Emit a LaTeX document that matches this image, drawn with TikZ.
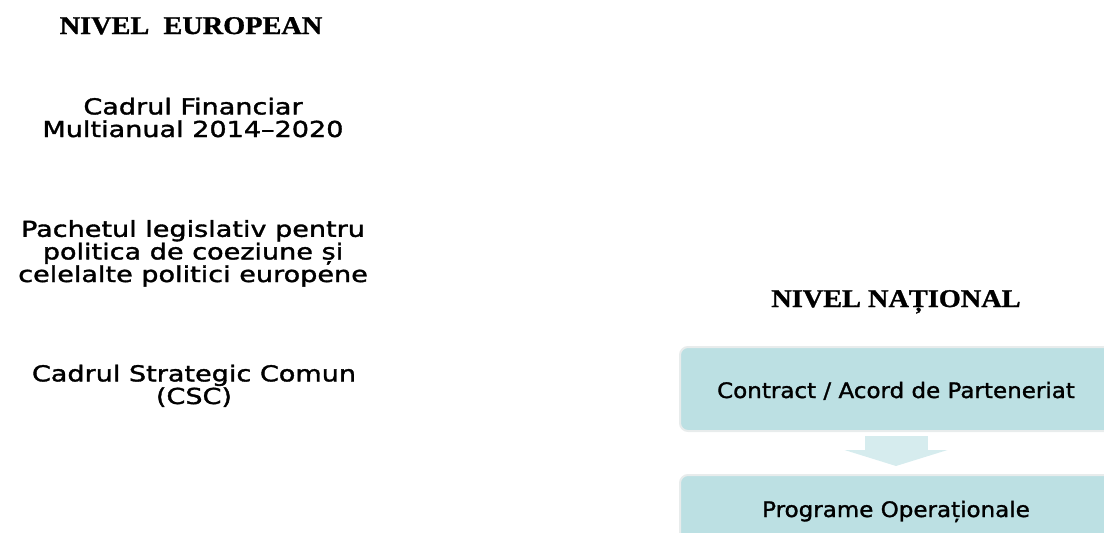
\documentclass[tikz,border=0pt]{standalone}
\usepackage{fontspec}
\usetikzlibrary{arrows.meta}
\newfontfamily\lsans[FakeStretch=1.23,FakeBold=1.6]{DejaVu Sans}
\newfontfamily\bsans[FakeStretch=1.08,FakeBold=1.4]{DejaVu Sans}
\newfontfamily\hserif[FakeStretch=1.11,FakeBold=1.2]{Liberation Serif}
\definecolor{boxfill}{RGB}{188,224,227}
\definecolor{arrowfill}{RGB}{214,236,238}
\definecolor{boxline}{RGB}{232,236,236}
\tikzset{
  heading/.style={inner sep=0pt, anchor=base, font=\hserif\bfseries\fontsize{25.5}{27}\selectfont},
  eutext/.style={inner sep=0pt, anchor=base, align=center, font=\lsans\fontsize{22}{22.6}\selectfont},
  natbox/.style={rounded corners=8pt, fill=boxfill, draw=boxline, line width=2pt,
    minimum width=432pt, minimum height=84pt, inner sep=0pt},
  boxtext/.style={inner sep=0pt, anchor=base, font=\bsans\fontsize{21.3}{22}\selectfont},
  blockarrow/.style={draw=arrowfill, line width=63pt,
    -{Triangle[width=103pt, length=16pt, line width=0pt 0 0]}, arrowfill}
}
\begin{document}
\begin{tikzpicture}[x=1pt, y=-1pt]
\useasboundingbox (0,0) rectangle (1104,533);
\clip (0,0) rectangle (1104,533);
% European level
\node[heading] (eu) at (191,34) {NIVEL\ \ EUROPEAN};
\node[eutext] (cfm) at (193,137) {Cadrul Financiar\\Multianual 2014–2020};
\node[eutext] (pl) at (193,282) {Pachetul legislativ pentru\\politica de coeziune și\\celelalte politici europene};
\node[eutext] (csc) at (194,404) {Cadrul Strategic Comun\\(CSC)};
% National level
\node[heading] (nat) at (896,307) {NIVEL NAȚIONAL};
\node[natbox] (b1) at (896,389) {};
\node[natbox, minimum height=110pt] (b2) at (896,530) {};
\node[boxtext] (t1) at (896,398) {Contract / Acord de Parteneriat};
\node[boxtext] (t2) at (896,517) {Programe Operaționale};
\draw[blockarrow, shorten <=4pt, shorten >=8pt] (b1.south) -- (b2.north);
\end{tikzpicture}
\end{document}
